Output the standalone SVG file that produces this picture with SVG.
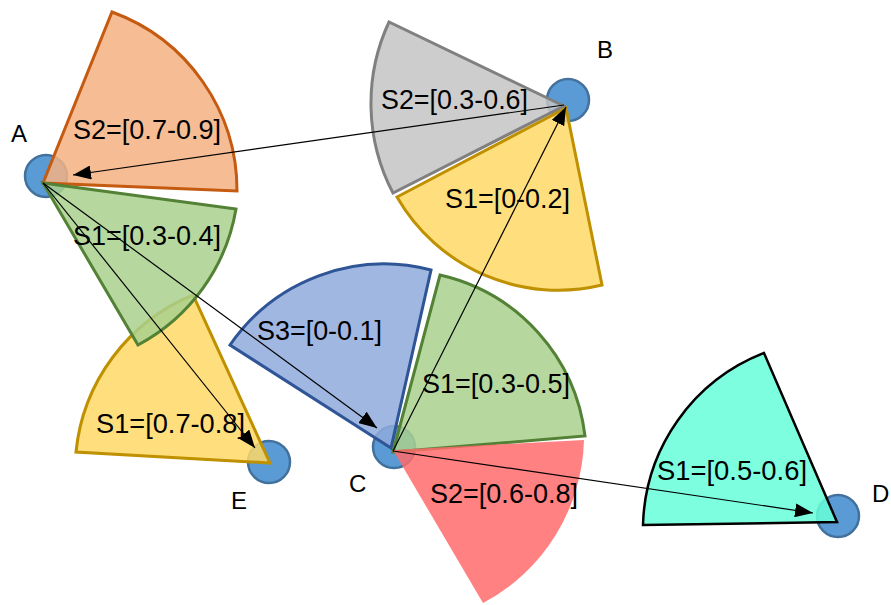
<svg xmlns="http://www.w3.org/2000/svg" width="891" height="605" viewBox="0 0 891 605">
<style>
.node{fill:#5B9BD5;stroke:#41719C;stroke-width:2.5}
.nlab{font-family:"Liberation Sans",Arial,sans-serif;font-size:24px;fill:#000}
.slab{font-family:"Liberation Sans",Arial,sans-serif;font-size:28px;fill:#000}
.sec{fill-opacity:0.85;stroke-width:3;stroke-linejoin:miter}
.orange{fill:#F4B183;stroke:#C55A11}
.green{fill:#A9D18E;stroke:#538135}
.yellow{fill:#FFD966;stroke:#BF9000}
.gray{fill:#C4C4C4;stroke:#808080}
.blue{fill:#8FAADC;stroke:#2F5597}
.red{fill:#FF6B6B;stroke:none}
.cyan{fill:#66FFD9;stroke:#000;stroke-width:2.5}
.edge{fill:none;stroke:#000;stroke-width:1.2}
</style>
<defs>
<marker id="arr" markerWidth="18" markerHeight="14" refX="18" refY="7" orient="auto" markerUnits="userSpaceOnUse">
<path d="M0,0 L18,7 L0,14 Z" fill="#000"/>
</marker>
</defs>

<g id="node-A"><circle class="node" cx="46" cy="176" r="21"/><text class="nlab" x="11" y="142">A</text></g>
<g id="node-B"><circle class="node" cx="568" cy="100" r="21"/><text class="nlab" x="597" y="58">B</text></g>
<g id="node-C"><circle class="node" cx="394" cy="447" r="21"/><text class="nlab" x="349" y="492">C</text></g>
<g id="node-D"><circle class="node" cx="838" cy="516" r="21"/><text class="nlab" x="872" y="502">D</text></g>
<g id="node-E"><circle class="node" cx="269" cy="462" r="21"/><text class="nlab" x="231" y="509">E</text></g>

<g id="sectors">
<g id="sector-A-S2"><path class="sec orange" d="M43,183 L112,12 A190,190 0 0 1 237,191 Z"/></g>
<g id="sector-E-S1"><path class="sec yellow" d="M270,463 L193,295 A190,190 0 0 0 76,452 Z"/></g>
<g id="sector-A-S1"><path class="sec green" d="M43,183 L236,209 A190,190 0 0 1 138,345 Z"/></g>
<g id="sector-B-S2"><path class="sec gray" d="M564,106 L389,22 A193,193 0 0 0 393,193 Z"/></g>
<g id="sector-B-S1"><path class="sec yellow" d="M566,108 L397,197 A186,186 0 0 0 602,285 Z"/></g>
<g id="sector-C-S3"><path class="sec blue" d="M391,448 L230,345 A187,187 0 0 1 431,270 Z"/></g>
<g id="sector-C-S1"><path class="sec green" d="M393,452 L440,275 A188,188 0 0 1 585,436 Z"/></g>
<g id="sector-C-S2"><path class="sec red" d="M393,450 L584,440 A190,190 0 0 1 483,603 Z"/></g>
<g id="sector-D-S1"><path class="sec cyan" d="M837,522 L764,353 A190,190 0 0 0 643,525 Z"/></g>
</g>

<g id="connectors">
<line class="edge" x1="564" y1="105" x2="73" y2="175" marker-end="url(#arr)"/>
<line class="edge" x1="393" y1="451" x2="566" y2="107" marker-end="url(#arr)"/>
<line class="edge" x1="43" y1="183" x2="377" y2="428" marker-end="url(#arr)"/>
<line class="edge" x1="43" y1="183" x2="255" y2="448" marker-end="url(#arr)"/>
<line class="edge" x1="393" y1="451" x2="813" y2="513" marker-end="url(#arr)"/>
</g>

<g id="labels">
<text class="slab" x="73" y="139" textLength="148" lengthAdjust="spacingAndGlyphs">S2=[0.7-0.9]</text>
<text class="slab" x="73" y="245" textLength="148" lengthAdjust="spacingAndGlyphs">S1=[0.3-0.4]</text>
<text class="slab" x="381" y="109" textLength="147" lengthAdjust="spacingAndGlyphs">S2=[0.3-0.6]</text>
<text class="slab" x="445" y="208" textLength="125" lengthAdjust="spacingAndGlyphs">S1=[0-0.2]</text>
<text class="slab" x="96" y="433" textLength="149" lengthAdjust="spacingAndGlyphs">S1=[0.7-0.8]</text>
<text class="slab" x="257" y="340" textLength="125" lengthAdjust="spacingAndGlyphs">S3=[0-0.1]</text>
<text class="slab" x="422" y="393" textLength="148" lengthAdjust="spacingAndGlyphs">S1=[0.3-0.5]</text>
<text class="slab" x="430" y="503" textLength="148" lengthAdjust="spacingAndGlyphs">S2=[0.6-0.8]</text>
<text class="slab" x="657" y="480" textLength="150" lengthAdjust="spacingAndGlyphs">S1=[0.5-0.6]</text>
</g>
</svg>
